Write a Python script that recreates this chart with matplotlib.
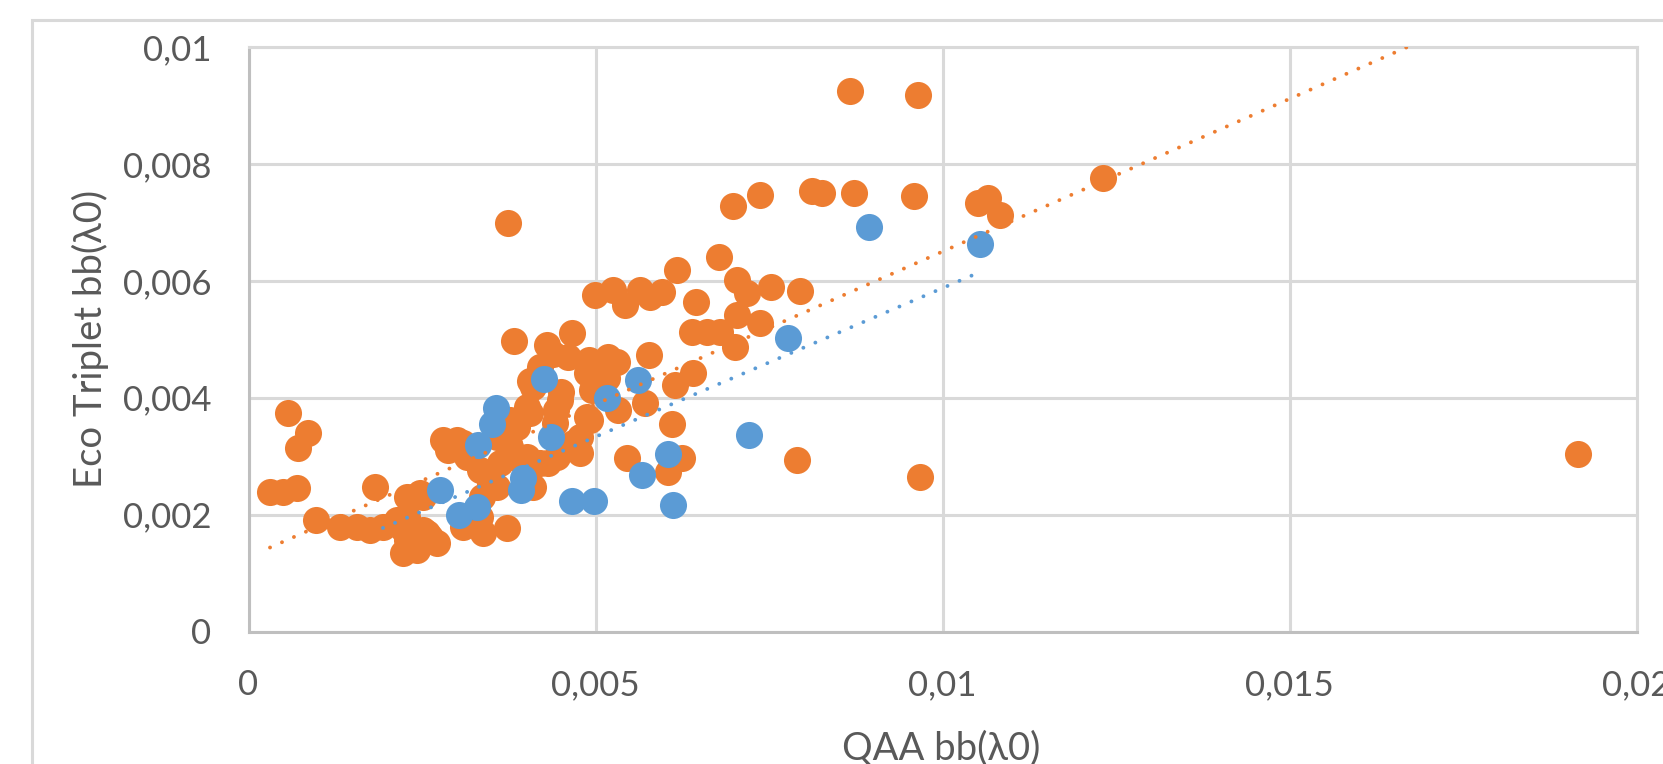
import numpy as np
import matplotlib
matplotlib.use("Agg")
import matplotlib.pyplot as plt
from matplotlib.patches import Rectangle

plt.rcParams['font.family'] = ['Lato', 'Open Sans', 'DejaVu Sans']

# ---- data ----
# orange series (most samples)
orange_x = [0.008663, 0.009647, 0.008124, 0.008268, 0.008725, 0.009585, 0.010516, 0.010660,
            0.010828, 0.012317, 0.019157, 0.009678, 0.006977, 0.007370, 0.006779, 0.006170,
            0.007034, 0.007179, 0.007524, 0.007947, 0.006448, 0.007034, 0.007370, 0.006386,
            0.006602, 0.006794, 0.007010, 0.005775, 0.006409, 0.006145, 0.005713, 0.006107,
            0.007899, 0.006242, 0.006049, 0.004993, 0.005256, 0.005425, 0.005641, 0.005785,
            0.005954, 0.003743, 0.003826, 0.004297, 0.004657, 0.004608, 0.004921, 0.005184,
            0.005305, 0.005161, 0.004104, 0.004488, 0.004945, 0.005329, 0.004921, 0.004416,
            0.004056, 0.003865, 0.004777, 0.004777, 0.004320, 0.005450, 0.003480, 0.004200,
            0.004873, 0.003768, 0.003000, 0.002879, 0.003576, 0.003768, 0.004009, 0.004441,
            0.004680, 0.004873, 0.003336, 0.003576, 0.004104, 0.002471, 0.002375, 0.002279,
            0.002568, 0.002712, 0.003336, 0.003720, 0.000573, 0.000862, 0.000718, 0.000310,
            0.000501, 0.000695, 0.000968, 0.001823, 0.001318, 0.001559, 0.001751, 0.001942,
            0.002279, 0.002135, 0.002279, 0.002519, 0.002424, 0.002231, 0.003095, 0.003383,
            0.002615, 0.003095, 0.002947, 0.004009, 0.004431, 0.003624, 0.004200, 0.003816,
            0.003144, 0.002803, 0.004390, 0.004910, 0.004510, 0.004050, 0.003750, 0.002520,
            0.002220, 0.003360]
orange_y = [0.009253, 0.009179, 0.007542, 0.007497, 0.007497, 0.007456, 0.007336, 0.007412,
            0.007126, 0.007754, 0.003037, 0.002638, 0.007280, 0.007463, 0.006402, 0.006185,
            0.006014, 0.005797, 0.005889, 0.005826, 0.005643, 0.005415, 0.005273, 0.005129,
            0.005129, 0.005129, 0.004873, 0.004731, 0.004428, 0.004217, 0.003904, 0.003550,
            0.002934, 0.002963, 0.002734, 0.005757, 0.005843, 0.005586, 0.005843, 0.005728,
            0.005814, 0.006994, 0.004975, 0.004902, 0.005102, 0.004702, 0.004589, 0.004702,
            0.004616, 0.004332, 0.004188, 0.003961, 0.004132, 0.003790, 0.003619, 0.003562,
            0.003733, 0.003504, 0.003333, 0.003049, 0.002878, 0.002963, 0.002536, 0.004531,
            0.004418, 0.003619, 0.003276, 0.003105, 0.003333, 0.003162, 0.002991, 0.002991,
            0.003220, 0.003675, 0.002763, 0.002477, 0.002477, 0.002364, 0.002306, 0.001964,
            0.001680, 0.001509, 0.001964, 0.001766, 0.003733, 0.003391, 0.003134, 0.002392,
            0.002392, 0.002450, 0.001908, 0.002477, 0.001793, 0.001793, 0.001737, 0.001793,
            0.002306, 0.001908, 0.001566, 0.001737, 0.001394, 0.001338, 0.001793, 0.001680,
            0.001622, 0.003220, 0.003157, 0.003846, 0.003790, 0.002883, 0.002883, 0.002991,
            0.002991, 0.003276, 0.004740, 0.004650, 0.004100, 0.004280, 0.003200, 0.002300,
            0.001750, 0.002300]

# blue series
blue_x = [0.008945, 0.010540, 0.007769, 0.007216, 0.006049, 0.006121, 0.005666, 0.005617,
          0.005159, 0.004661, 0.004978, 0.004354, 0.004258, 0.003951, 0.003927, 0.003562,
          0.003504, 0.003311, 0.003288, 0.003033, 0.002759]
blue_y = [0.006921, 0.006625, 0.005016, 0.003362, 0.003037, 0.002164, 0.002678, 0.004303,
          0.003990, 0.002233, 0.002233, 0.003333, 0.004320, 0.002621, 0.002421, 0.003819,
          0.003550, 0.003191, 0.002122, 0.001985, 0.002421]

# linear trendlines as shown on the chart: slope, intercept, x from, x to
orange_trend = [0.5225, 0.001275, 0.000310, 0.019157]
blue_trend = [0.509, 0.000785, 0.001938, 0.010440]

x_ticks = [0, 0.005, 0.01, 0.015, 0.02]
x_tick_labels = ['0', '0,005', '0,01', '0,015', '0,02']
y_ticks = [0, 0.002, 0.004, 0.006, 0.008, 0.01]
y_tick_labels = ['0', '0,002', '0,004', '0,006', '0,008', '0,01']

ORANGE = '#ED7D31'
BLUE = '#5B9BD5'
TXT = '#595959'

W, H = 1663, 764
fig = plt.figure(figsize=(W / 100, H / 100), dpi=100)
ax = fig.add_axes([248.5 / W, 1 - 631.5 / H, (1636.5 - 248.5) / W, (631.5 - 47) / H])

# outer chart border
fig.patches.append(Rectangle((32 / W, -0.1), 1.2, 1 - 20 / H + 0.1, transform=fig.transFigure,
                             fill=False, edgecolor='#D9D9D9', linewidth=2.2))

ax.scatter(orange_x, orange_y, s=380, color=ORANGE, linewidths=0, zorder=2)
ax.scatter(blue_x, blue_y, s=380, color=BLUE, linewidths=0, zorder=3)

for (k, b, x0, x1), col in [(orange_trend, ORANGE), (blue_trend, BLUE)]:
    tx = np.array([x0, x1])
    ax.plot(tx, k * tx + b, color=col, linewidth=2.8, linestyle=(0, (0.01, 3.35)),
            dash_capstyle='round', zorder=4)

ax.set_xlim(0, 0.02)
ax.set_ylim(0, 0.01)
ax.set_xticks(x_ticks)
ax.set_xticklabels(x_tick_labels)
ax.set_yticks(y_ticks)
ax.set_yticklabels(y_tick_labels)
ax.tick_params(length=0, pad=27, labelsize=25, labelcolor=TXT)

ax.set_axisbelow(True)
ax.grid(True, color='#D9D9D9', linewidth=2.2)
for side in ['top', 'right']:
    ax.spines[side].set_color('#D9D9D9')
    ax.spines[side].set_linewidth(2.2)
for side in ['bottom', 'left']:
    ax.spines[side].set_color('#BFBFBF')
    ax.spines[side].set_linewidth(2.2)

fig.text(941 / W, 1 - 748 / H, 'QAA bb(λ0)', ha='center', va='center', fontsize=27.5, color=TXT)
fig.text(90 / W, 1 - 339 / H, 'Eco Triplet bb(λ0)', ha='center', va='center', rotation=90,
         fontsize=27.5, color=TXT)

fig.savefig('out.png', dpi=100)
